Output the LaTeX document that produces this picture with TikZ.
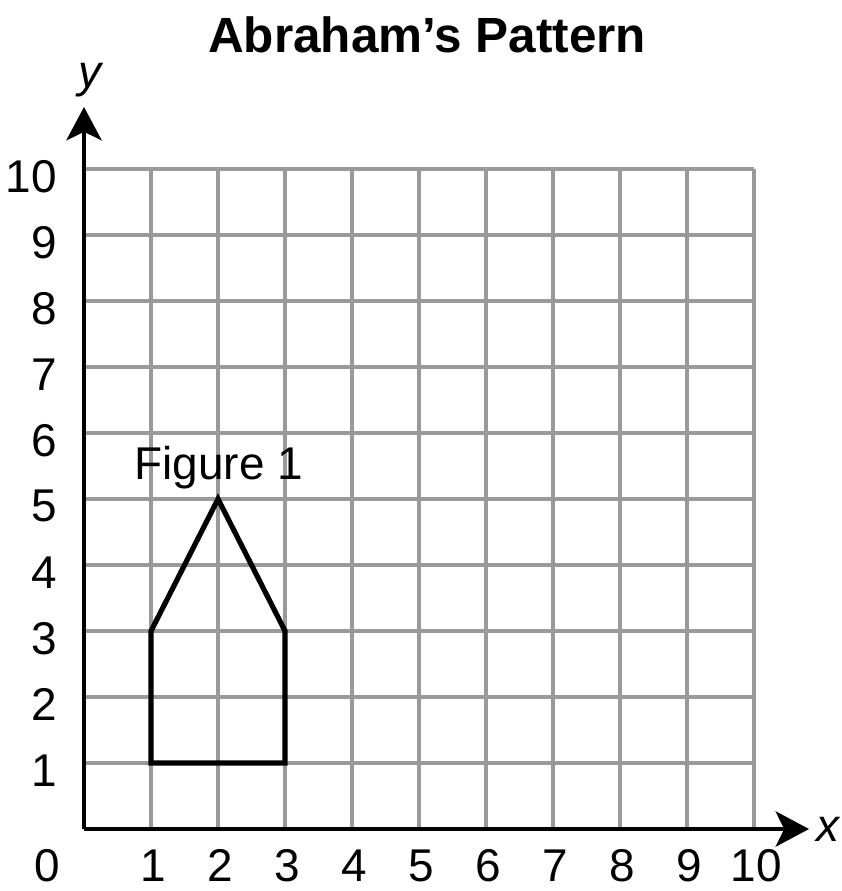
\documentclass[tikz,border=0pt]{standalone}
\usepackage{fontspec}
\setmainfont{Liberation Sans}
\usetikzlibrary{arrows.meta}
\definecolor{gridgray}{HTML}{9A9A9A}

\begin{document}
\begin{tikzpicture}[x=1cm, y=0.985cm,
    gridline/.style={gridgray, line width=1.7pt},
    axis/.style={black, line width=1.4pt, -{Stealth[length=0.5cm, width=0.53cm, inset=0.13cm]}},
    figline/.style={black, line width=2.2pt, line join=miter},
    ticklbl/.style={font=\fontsize{19.5}{23}\selectfont, inner sep=0pt},
    axislbl/.style={font=\fontsize{19.5}{23}\selectfont\itshape, inner sep=0pt}
]
\useasboundingbox (-1.254,-0.939) rectangle (11.30,12.561);

% grid
\foreach \i in {1,...,10} {
  \draw[gridline] (\i,0) -- (\i,10);
  \draw[gridline] (0,\i) -- (10,\i);
}

% axes
\coordinate (origin) at (0,0);
\coordinate (xend) at (10.82,0);
\coordinate (yend) at (0,10.94);
\draw[axis] (origin) -- (xend);
\draw[axis] (origin) -- (yend);
\node[axislbl] (xlbl) at (11.11,0) {x};
\node[axislbl] (ylbl) at (0.09,11.35) {y};

% tick labels
\node[ticklbl, anchor=base] (x0) at (-0.55,-0.80) {0};
\foreach \i in {1,...,10} {
  \node[ticklbl, anchor=base] (x\i) at (\i+0.03,-0.80) {\i};
  \node[ticklbl, anchor=east] (y\i) at (-0.40,\i-0.11) {\i};
}

% figure 1
\draw[figline] (1,1) -- (3,1) -- (3,3) -- (2,5) -- (1,3) -- cycle;
\node[ticklbl, anchor=base] (figlbl) at (2.01,5.29) {Figure 1};

% title
\node[font=\fontsize{21}{25}\selectfont\bfseries, anchor=base, inner sep=0pt] (title) at (5.12,11.76) {Abraham’s Pattern};
\end{tikzpicture}
\end{document}
